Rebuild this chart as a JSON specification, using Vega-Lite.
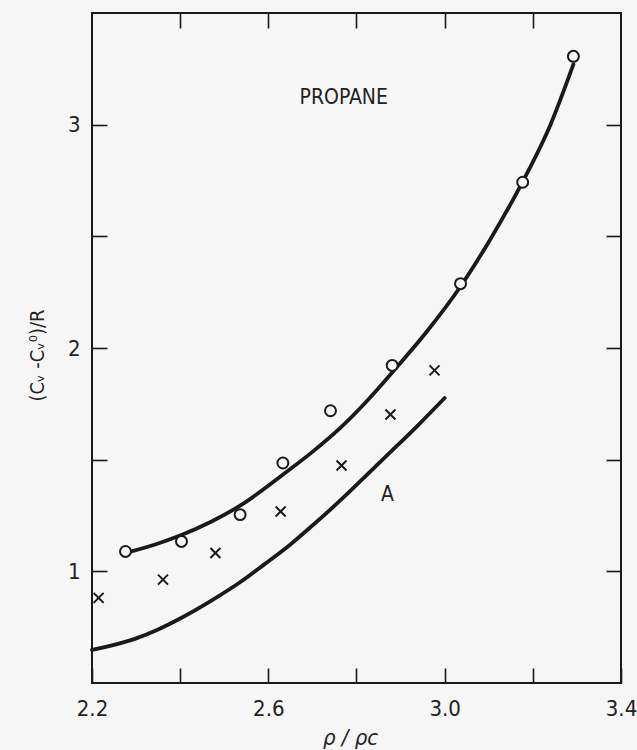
{
  "$schema": "https://vega.github.io/schema/vega-lite/v6.json",
  "width": 529,
  "height": 670,
  "autosize": {"type": "none"},
  "padding": {"left": 92, "top": 13, "right": 16, "bottom": 67},
  "background": "#f6f6f6",
  "config": {
    "view": {"stroke": "#1a1a1a", "strokeWidth": 2},
    "font": "DejaVu Sans Condensed, Liberation Sans Narrow, Liberation Sans, sans-serif",
    "axis": {
      "domain": false,
      "grid": false,
      "tickColor": "#1a1a1a",
      "tickWidth": 1.6,
      "tickSize": -15,
      "labelColor": "#222222",
      "labelFontSize": 22,
      "labelFont": "DejaVu Sans Condensed, Liberation Sans Narrow, Liberation Sans, sans-serif",
      "titleColor": "#222222",
      "titleFontWeight": "normal",
      "titleFont": "DejaVu Sans Condensed, Liberation Sans Narrow, Liberation Sans, sans-serif"
    }
  },
  "datasets": {
    "curves": [
      {"curve": "upper", "x": 2.289, "y": 1.089},
      {"curve": "upper", "x": 2.34, "y": 1.118},
      {"curve": "upper", "x": 2.40, "y": 1.16},
      {"curve": "upper", "x": 2.47, "y": 1.222},
      {"curve": "upper", "x": 2.535, "y": 1.293},
      {"curve": "upper", "x": 2.641, "y": 1.445},
      {"curve": "upper", "x": 2.70, "y": 1.535},
      {"curve": "upper", "x": 2.762, "y": 1.64},
      {"curve": "upper", "x": 2.82, "y": 1.755},
      {"curve": "upper", "x": 2.883, "y": 1.895},
      {"curve": "upper", "x": 2.96, "y": 2.075},
      {"curve": "upper", "x": 3.034, "y": 2.27},
      {"curve": "upper", "x": 3.10, "y": 2.475},
      {"curve": "upper", "x": 3.177, "y": 2.745},
      {"curve": "upper", "x": 3.24, "y": 3.0},
      {"curve": "upper", "x": 3.292, "y": 3.27},
      {"curve": "A", "x": 2.2, "y": 0.648},
      {"curve": "A", "x": 2.25, "y": 0.671},
      {"curve": "A", "x": 2.30, "y": 0.70},
      {"curve": "A", "x": 2.35, "y": 0.74},
      {"curve": "A", "x": 2.40, "y": 0.789},
      {"curve": "A", "x": 2.47, "y": 0.868},
      {"curve": "A", "x": 2.535, "y": 0.95},
      {"curve": "A", "x": 2.59, "y": 1.03},
      {"curve": "A", "x": 2.648, "y": 1.117},
      {"curve": "A", "x": 2.70, "y": 1.205},
      {"curve": "A", "x": 2.762, "y": 1.315},
      {"curve": "A", "x": 2.82, "y": 1.425},
      {"curve": "A", "x": 2.875, "y": 1.53},
      {"curve": "A", "x": 2.94, "y": 1.655},
      {"curve": "A", "x": 3.0, "y": 1.776}
    ],
    "circles": [
      {"x": 2.276, "y": 1.089},
      {"x": 2.403, "y": 1.134},
      {"x": 2.536, "y": 1.254},
      {"x": 2.633, "y": 1.485},
      {"x": 2.741, "y": 1.719},
      {"x": 2.881, "y": 1.922},
      {"x": 3.036, "y": 2.288},
      {"x": 3.177, "y": 2.742},
      {"x": 3.292, "y": 3.306}
    ],
    "crosses": [
      {"x": 2.215, "y": 0.881},
      {"x": 2.361, "y": 0.963},
      {"x": 2.48, "y": 1.082},
      {"x": 2.628, "y": 1.268},
      {"x": 2.766, "y": 1.474},
      {"x": 2.877, "y": 1.702},
      {"x": 2.977, "y": 1.9}
    ],
    "labels": [
      {"x": 2.771, "y": 3.121, "text": "PROPANE"},
      {"x": 2.87, "y": 1.343, "text": "A"}
    ]
  },
  "layer": [
    {
      "data": {"name": "curves"},
      "mark": {"type": "line", "interpolate": "monotone", "strokeWidth": 3.8, "color": "#1a1a1a", "strokeCap": "round"},
      "encoding": {
        "x": {
          "field": "x", "type": "quantitative",
          "scale": {"domain": [2.2, 3.4], "nice": false, "zero": false},
          "axis": {
            "orient": "bottom",
            "values": [2.2, 2.4, 2.6, 2.8, 3.0, 3.2, 3.4],
            "labelExpr": "(round(datum.value*10) - 22) % 4 == 0 ? format(datum.value, '.1f') : ''",
            "labelPadding": 30,
            "labelFlush": false,
            "title": "ρ / ρc",
            "titleFontSize": 22,
            "titleFontStyle": "italic",
            "titleX": 258,
            "titleY": 54,
            "titleBaseline": "middle",
            "titleAlign": "center"
          }
        },
        "y": {
          "field": "y", "type": "quantitative",
          "scale": {"domain": [0.5, 3.5], "nice": false, "zero": false},
          "axis": {
            "orient": "left",
            "values": [1, 1.5, 2, 2.5, 3],
            "labelExpr": "datum.value % 1 == 0 ? format(datum.value, 'd') : ''",
            "labelPadding": 27,
            "labelFlush": false,
            "title": "(Cᵥ -Cᵥ⁰)/R",
            "titleFontSize": 20,
            "titleX": -55,
            "titleY": 342,
            "titleAngle": 270,
            "titleBaseline": "middle",
            "titleAlign": "center"
          }
        },
        "detail": {"field": "curve", "type": "nominal"}
      }
    },
    {
      "data": {"name": "circles"},
      "mark": {"type": "point", "shape": "circle", "size": 120, "filled": true, "fill": "#f6f6f6", "stroke": "#1a1a1a", "strokeWidth": 2, "opacity": 1},
      "encoding": {
        "x": {
          "field": "x", "type": "quantitative",
          "scale": {"domain": [2.2, 3.4], "nice": false, "zero": false},
          "axis": {"orient": "top", "values": [2.4, 2.6, 2.8, 3.0, 3.2], "labels": false, "title": null}
        },
        "y": {
          "field": "y", "type": "quantitative",
          "scale": {"domain": [0.5, 3.5], "nice": false, "zero": false},
          "axis": {"orient": "right", "values": [1, 1.5, 2, 2.5, 3], "labels": false, "title": null}
        }
      }
    },
    {
      "data": {"name": "crosses"},
      "mark": {"type": "point", "shape": "M-1,-1L1,1M-1,1L1,-1", "size": 100, "filled": false, "stroke": "#1a1a1a", "strokeWidth": 2, "opacity": 1},
      "encoding": {
        "x": {"field": "x", "type": "quantitative", "scale": {"domain": [2.2, 3.4], "nice": false, "zero": false}, "axis": null},
        "y": {"field": "y", "type": "quantitative", "scale": {"domain": [0.5, 3.5], "nice": false, "zero": false}, "axis": null}
      }
    },
    {
      "data": {"name": "labels"},
      "mark": {"type": "text", "fontSize": 21, "align": "center", "baseline": "middle", "color": "#222222"},
      "encoding": {
        "x": {"field": "x", "type": "quantitative", "scale": {"domain": [2.2, 3.4], "nice": false, "zero": false}, "axis": null},
        "y": {"field": "y", "type": "quantitative", "scale": {"domain": [0.5, 3.5], "nice": false, "zero": false}, "axis": null},
        "text": {"field": "text", "type": "nominal"}
      }
    }
  ],
  "resolve": {"axis": {"x": "independent", "y": "independent"}}
}
